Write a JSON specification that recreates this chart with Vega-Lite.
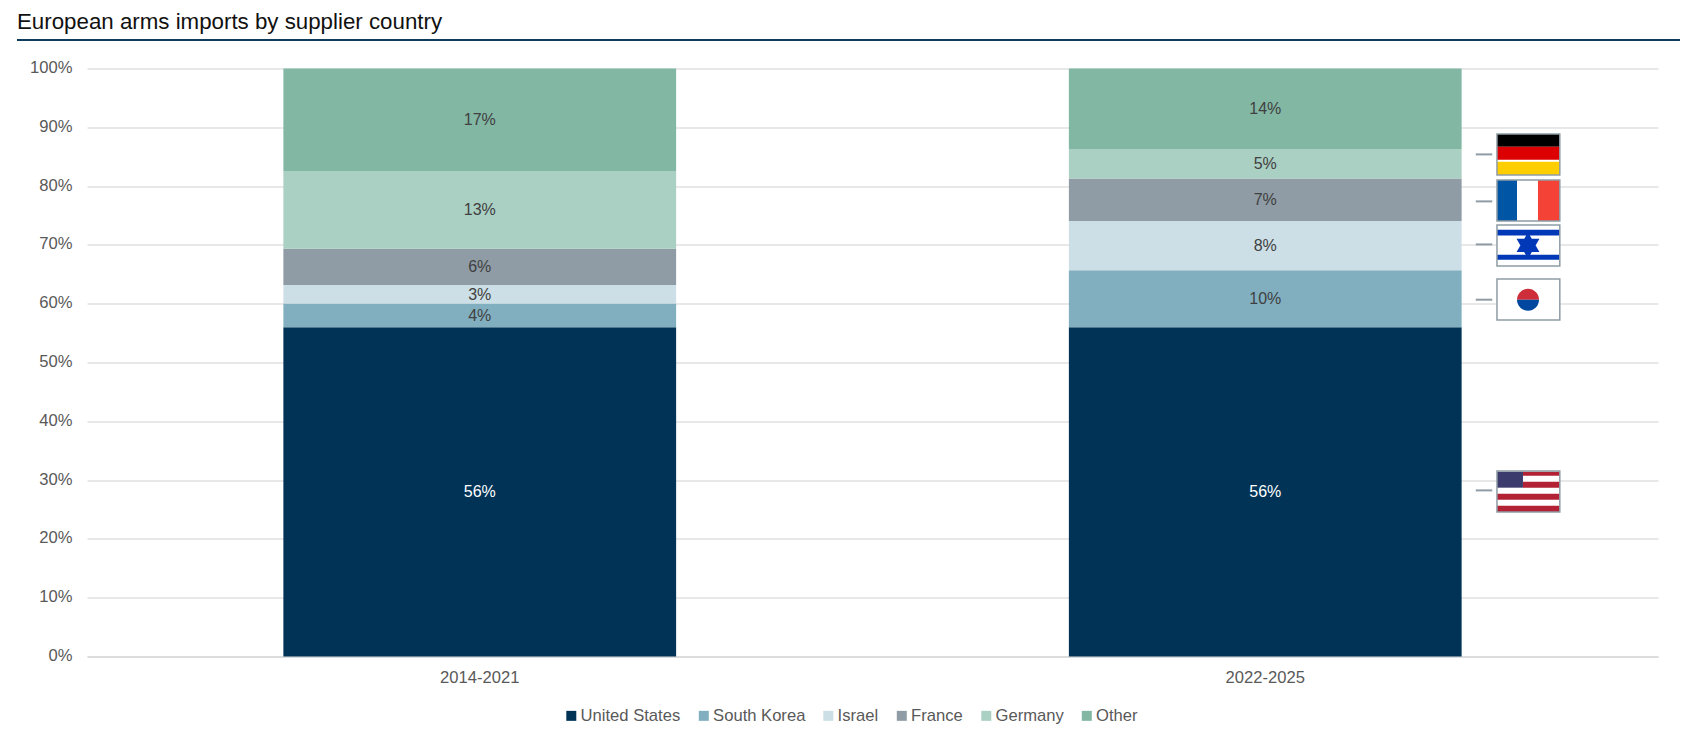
{
  "$schema": "https://vega.github.io/schema/vega-lite/v6.json",
  "width": 1571,
  "height": 588,
  "autosize": {"type": "none"},
  "padding": {"left": 87, "top": 68.5, "right": 40, "bottom": 80.5},
  "background": "white",
  "config": {
    "font": "Liberation Sans",
    "view": {"stroke": null}
  },
  "title": {
    "text": "European arms imports by supplier country",
    "anchor": "start",
    "frame": "group",
    "dx": -70,
    "offset": 6,
    "fontSize": 22.3,
    "fontWeight": "normal",
    "color": "#111111"
  },
  "datasets": {
    "imports": [
      {"period": "2014-2021", "country": "United States", "rank": 1, "share": 0.56},
      {"period": "2014-2021", "country": "South Korea", "rank": 2, "share": 0.0405},
      {"period": "2014-2021", "country": "Israel", "rank": 3, "share": 0.0315},
      {"period": "2014-2021", "country": "France", "rank": 4, "share": 0.0615},
      {"period": "2014-2021", "country": "Germany", "rank": 5, "share": 0.132},
      {"period": "2014-2021", "country": "Other", "rank": 6, "share": 0.1745},
      {"period": "2022-2025", "country": "United States", "rank": 1, "share": 0.56},
      {"period": "2022-2025", "country": "South Korea", "rank": 2, "share": 0.097},
      {"period": "2022-2025", "country": "Israel", "rank": 3, "share": 0.0835},
      {"period": "2022-2025", "country": "France", "rank": 4, "share": 0.0725},
      {"period": "2022-2025", "country": "Germany", "rank": 5, "share": 0.05},
      {"period": "2022-2025", "country": "Other", "rank": 6, "share": 0.137}
    ],
    "boxes": [
      {"flag": "Germany", "x0": 1.795, "x1": 1.875, "y0": 0.8189, "y1": 0.8886},
      {"flag": "France", "x0": 1.795, "x1": 1.875, "y0": 0.7406, "y1": 0.8104},
      {"flag": "Israel", "x0": 1.795, "x1": 1.875, "y0": 0.6641, "y1": 0.7338},
      {"flag": "South Korea", "x0": 1.795, "x1": 1.875, "y0": 0.5723, "y1": 0.642},
      {"flag": "United States", "x0": 1.795, "x1": 1.875, "y0": 0.2457, "y1": 0.3155}
    ],
    "stripes": [
      {"part": "de black", "x0": 1.795, "x1": 1.875, "y0": 0.867, "y1": 0.8886},
      {"part": "de red", "x0": 1.795, "x1": 1.875, "y0": 0.8449, "y1": 0.867},
      {"part": "de gold", "x0": 1.795, "x1": 1.875, "y0": 0.8189, "y1": 0.8415},
      {"part": "fr blue", "x0": 1.795, "x1": 1.8205, "y0": 0.7406, "y1": 0.8104},
      {"part": "fr red", "x0": 1.8472, "x1": 1.875, "y0": 0.7406, "y1": 0.8104},
      {"part": "il blue", "x0": 1.795, "x1": 1.875, "y0": 0.7161, "y1": 0.7258},
      {"part": "il blue", "x0": 1.795, "x1": 1.875, "y0": 0.6748, "y1": 0.6833},
      {"part": "us red", "x0": 1.8281, "x1": 1.875, "y0": 0.3075, "y1": 0.3143},
      {"part": "us red", "x0": 1.8281, "x1": 1.875, "y0": 0.2871, "y1": 0.2973},
      {"part": "us red", "x0": 1.795, "x1": 1.875, "y0": 0.2667, "y1": 0.2769},
      {"part": "us red", "x0": 1.795, "x1": 1.875, "y0": 0.2457, "y1": 0.2565},
      {"part": "us blue", "x0": 1.795, "x1": 1.8281, "y0": 0.2871, "y1": 0.3143}
    ],
    "emblems": [
      {"part": "il star", "x": 1.8345, "y": 0.6991},
      {"part": "kr red", "x": 1.8345, "y": 0.6068},
      {"part": "kr blue", "x": 1.8345, "y": 0.6068}
    ],
    "leaders": [
      {"flag": "Germany", "x0": 1.768, "x1": 1.789, "y": 0.8539},
      {"flag": "France", "x0": 1.768, "x1": 1.789, "y": 0.774},
      {"flag": "Israel", "x0": 1.768, "x1": 1.789, "y": 0.7008},
      {"flag": "South Korea", "x0": 1.768, "x1": 1.789, "y": 0.6068},
      {"flag": "United States", "x0": 1.768, "x1": 1.789, "y": 0.2825}
    ],
    "header": [
      {"x0": -0.0891, "x1": 2.028, "y": 1.0485}
    ]
  },
  "layer": [
    {
      "data": {"name": "imports"},
      "layer": [
        {
          "mark": {"type": "bar"},
          "encoding": {
            "x": {
              "field": "period",
              "type": "nominal",
              "title": null,
              "scale": {"paddingInner": 0.5, "paddingOuter": 0.25},
              "axis": {
                "labelAngle": 0,
                "labelFontSize": 16.6,
                "labelColor": "#595959",
                "labelPadding": 13,
                "ticks": false,
                "domainColor": "#d9d9d9",
                "domainWidth": 1.5,
                "grid": false
              }
            },
            "y": {
              "field": "share",
              "type": "quantitative",
              "stack": "zero",
              "title": null,
              "scale": {"domain": [0, 1], "nice": false},
              "axis": {
                "values": [0, 0.1, 0.2, 0.3, 0.4, 0.5, 0.6, 0.7, 0.8, 0.9, 1],
                "format": ".0%",
                "labelFontSize": 16.6,
                "labelColor": "#595959",
                "labelPadding": 15,
                "labelOffset": -1,
                "ticks": false,
                "domain": false,
                "gridColor": "#d2d2d2",
                "gridWidth": 1.2
              }
            },
            "order": {"field": "rank", "type": "ordinal"},
            "color": {
              "field": "country",
              "type": "nominal",
              "title": null,
              "scale": {
                "domain": ["United States", "South Korea", "Israel", "France", "Germany", "Other"],
                "range": ["#003356", "#81afc0", "#ccdfe6", "#8f9ca5", "#aacfc3", "#82b7a4"]
              },
              "legend": {
                "orient": "none",
                "legendX": 476,
                "legendY": 639,
                "direction": "horizontal",
                "columns": 6,
                "columnPadding": 14.5,
                "symbolType": "square",
                "symbolSize": 100,
                "symbolStrokeWidth": 0,
                "labelOffset": 1,
                "labelFontSize": 16.6,
                "labelColor": "#595959"
              }
            }
          }
        },
        {
          "mark": {"type": "text", "fontSize": 16, "dy": 0.5},
          "encoding": {
            "x": {"field": "period", "type": "nominal"},
            "y": {"field": "share", "type": "quantitative", "stack": "zero", "bandPosition": 0.5},
            "order": {"field": "rank", "type": "ordinal"},
            "text": {"field": "share", "type": "quantitative", "format": ".0%"},
            "color": {
              "condition": {"test": "datum.country === 'United States'", "value": "white"},
              "value": "#404040"
            }
          }
        }
      ]
    },
    {
      "layer": [
        {
          "data": {"name": "header"},
          "mark": {"type": "rule", "color": "#0e3d5c", "strokeWidth": 2},
          "encoding": {
            "x": {"field": "x0", "type": "quantitative", "scale": {"domain": [0, 2], "nice": false, "zero": false}, "axis": null},
            "x2": {"field": "x1"},
            "y": {"field": "y", "type": "quantitative"}
          }
        },
        {
          "data": {"name": "leaders"},
          "mark": {"type": "rule", "color": "#8f9ca5", "strokeWidth": 2},
          "encoding": {
            "x": {"field": "x0", "type": "quantitative", "axis": null},
            "x2": {"field": "x1"},
            "y": {"field": "y", "type": "quantitative"}
          }
        },
        {
          "data": {"name": "boxes"},
          "mark": {"type": "rect", "fill": "white"},
          "encoding": {
            "x": {"field": "x0", "type": "quantitative", "axis": null},
            "x2": {"field": "x1"},
            "y": {"field": "y0", "type": "quantitative"},
            "y2": {"field": "y1"}
          }
        },
        {
          "data": {"name": "stripes"},
          "mark": {"type": "rect"},
          "encoding": {
            "x": {"field": "x0", "type": "quantitative", "axis": null},
            "x2": {"field": "x1"},
            "y": {"field": "y0", "type": "quantitative"},
            "y2": {"field": "y1"},
            "color": {
              "field": "part",
              "type": "nominal",
              "legend": null,
              "scale": {
                "domain": ["de black", "de red", "de gold", "fr blue", "fr red", "il blue", "us red", "us blue", "il star", "kr red", "kr blue"],
                "range": ["#000000", "#dd0000", "#ffce00", "#0055a4", "#f44336", "#0038b8", "#b22234", "#3c3b6e", "#0038b8", "#cd2e3a", "#0047a0"]
              }
            }
          }
        },
        {
          "data": {"name": "emblems"},
          "mark": {"type": "point", "filled": true, "opacity": 1, "size": 1936, "strokeWidth": 0},
          "encoding": {
            "x": {"field": "x", "type": "quantitative", "axis": null},
            "y": {"field": "y", "type": "quantitative"},
            "color": {"field": "part", "type": "nominal", "legend": null},
            "shape": {
              "field": "part",
              "type": "nominal",
              "legend": null,
              "scale": {
                "domain": ["il star", "kr red", "kr blue"],
                "range": [
                  "M0,-0.6L0.52,0.3L-0.52,0.3ZM0,0.6L-0.52,-0.3L0.52,-0.3Z",
                  "M-0.5,0A0.5,0.5 0 0 1 0.5,0Z",
                  "M-0.5,0A0.5,0.5 0 0 0 0.5,0Z"
                ]
              }
            }
          }
        },
        {
          "data": {"name": "boxes"},
          "mark": {"type": "rect", "fillOpacity": 0, "stroke": "#8f9ca5", "strokeWidth": 1.5},
          "encoding": {
            "x": {"field": "x0", "type": "quantitative", "axis": null},
            "x2": {"field": "x1"},
            "y": {"field": "y0", "type": "quantitative"},
            "y2": {"field": "y1"}
          }
        }
      ]
    }
  ],
  "resolve": {"scale": {"x": "independent", "color": "independent"}}
}
